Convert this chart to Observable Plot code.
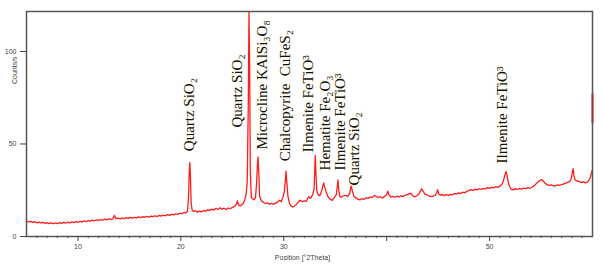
<!DOCTYPE html>
<html><head><meta charset="utf-8">
<script src="https://cdn.jsdelivr.net/npm/d3@7"></script>
<script src="https://cdn.jsdelivr.net/npm/@observablehq/plot@0.6"></script>
<style>body{margin:0;background:#fff;}</style>
</head><body><div id="chart"></div>
<script>
// XRD pattern: [2θ (degrees), counts/s]
const pattern = [
[5.0,8.3],[5.2,7.9],[5.4,8.2],[5.6,7.6],[5.8,8.0],[6.0,7.4],[6.2,7.8],[6.4,7.3],[6.6,7.6],[6.8,7.1],
[7.0,7.5],[7.2,7.0],[7.4,7.4],[7.6,6.9],[7.8,7.3],[8.0,7.0],[8.2,7.5],[8.4,7.1],[8.6,7.6],[8.8,7.2],
[9.0,7.7],[9.2,7.4],[9.4,7.9],[9.6,7.5],[9.8,8.0],[10.0,7.7],[10.2,8.2],[10.4,7.9],[10.6,8.4],[10.8,8.1],
[11.0,8.6],[11.2,8.3],[11.4,8.8],[11.6,8.5],[11.8,9.0],[12.0,8.7],[12.2,9.1],[12.4,8.8],[12.6,9.4],[12.8,9.0],
[13.0,9.5],[13.2,9.2],[13.4,9.7],[13.55,11.4],[13.7,9.6],[13.9,9.9],[14.1,9.5],[14.3,10.0],[14.5,9.7],[14.7,10.2],
[14.9,9.8],[15.1,10.3],[15.3,9.9],[15.5,10.4],[15.7,10.1],[15.9,10.6],[16.1,10.2],[16.3,10.7],[16.5,10.4],[16.7,10.9],
[16.9,10.5],[17.1,11.0],[17.3,10.7],[17.5,11.2],[17.7,10.8],[17.9,11.4],[18.1,11.0],[18.3,11.6],[18.5,11.2],[18.7,11.8],
[18.9,11.4],[19.1,12.0],[19.3,11.7],[19.5,12.3],[19.7,11.9],[19.9,12.6],[20.1,12.3],[20.3,13.0],[20.5,12.8],[20.65,13.8],
[20.75,22],[20.82,36],[20.87,40],[20.93,33],[21.0,18],[21.1,14.2],[21.25,13.5],[21.4,13.9],[21.6,13.2],[21.8,13.7],
[22.0,13.3],[22.2,14.1],[22.4,13.6],[22.6,14.5],[22.8,14.0],[23.0,14.8],[23.2,14.3],[23.4,15.2],[23.6,14.6],[23.8,15.5],
[24.0,14.8],[24.2,15.3],[24.4,14.6],[24.6,15.4],[24.8,15.0],[25.0,15.8],[25.2,16.2],[25.4,17.5],[25.5,19.3],[25.6,17.0],
[25.8,16.6],[26.0,17.5],[26.2,19.5],[26.35,23],[26.45,30],[26.55,70],[26.62,121.5],[26.68,95],[26.75,35],[26.85,21],
[26.95,20.5],[27.1,19.8],[27.25,21],[27.35,28],[27.45,40],[27.5,43],[27.56,36],[27.65,22],[27.8,19.5],[28.0,18.5],
[28.2,17.8],[28.4,18.2],[28.6,17.4],[28.8,17.9],[29.0,17.5],[29.2,18.0],[29.4,18.6],[29.6,19.6],[29.75,18.8],[29.9,21],
[30.05,24],[30.15,30],[30.22,35.3],[30.3,29],[30.4,22],[30.55,18],[30.7,16.6],[30.85,16.0],[31.0,16.3],[31.2,17.2],
[31.4,18.6],[31.6,19.6],[31.8,18.8],[32.0,19.2],[32.2,19.0],[32.4,21.5],[32.6,20.6],[32.8,22.5],[32.95,26],[33.02,38],
[33.06,43.8],[33.12,35],[33.2,25],[33.35,22.5],[33.5,22.0],[33.65,24],[33.8,27.5],[33.88,29],[33.95,27],[34.1,24.5],
[34.3,21.5],[34.5,20.2],[34.7,19.5],[34.9,21],[35.1,22.5],[35.2,27],[35.27,30.6],[35.35,25],[35.45,21.5],[35.6,21.3],
[35.8,21.9],[36.0,22.3],[36.2,21.6],[36.4,23.2],[36.55,27.6],[36.65,25],[36.8,21.8],[37.0,21.0],[37.2,20.2],[37.4,19.8],
[37.6,20.5],[37.8,20.1],[38.0,20.9],[38.2,20.6],[38.4,21.4],[38.6,21.0],[38.8,22.2],[39.0,21.6],[39.2,21.2],[39.4,21.4],
[39.6,20.8],[39.8,21.8],[40.0,22.6],[40.1,24.5],[40.2,22.8],[40.4,21.3],[40.6,21.7],[40.8,21.2],[41.0,21.8],[41.2,21.4],
[41.4,22.0],[41.6,21.7],[41.8,22.3],[42.0,22.6],[42.2,23.2],[42.35,23.4],[42.5,22.2],[42.7,21.4],[42.9,21.9],[43.1,22.8],
[43.3,24.8],[43.4,25.8],[43.55,24.5],[43.7,23.0],[43.9,22.5],[44.1,21.9],[44.3,21.5],[44.5,21.8],[44.7,22.2],[44.85,23.5],
[44.95,25.3],[45.05,23.0],[45.2,22.4],[45.4,22.7],[45.6,22.1],[45.8,22.6],[46.0,22.2],[46.2,22.8],[46.4,22.5],[46.6,23.2],
[46.8,23.0],[47.0,23.6],[47.2,23.2],[47.4,24.0],[47.6,23.6],[47.8,24.5],[48.0,24.8],[48.2,25.3],[48.4,24.9],[48.6,25.6],
[48.8,25.2],[49.0,25.8],[49.2,25.4],[49.4,26.0],[49.6,25.7],[49.8,26.4],[50.0,26.0],[50.2,26.6],[50.4,26.3],[50.6,26.9],
[50.8,26.5],[51.0,27.2],[51.2,28.2],[51.35,30.2],[51.5,33.5],[51.6,35.1],[51.7,33],[51.8,29.5],[51.95,27.0],[52.1,25.5],
[52.3,25.2],[52.5,25.9],[52.7,25.4],[52.9,26.0],[53.1,25.6],[53.3,26.2],[53.5,25.8],[53.7,26.4],[53.9,26.1],[54.1,26.6],
[54.3,27.2],[54.5,28.4],[54.7,29.5],[54.9,30.4],[55.05,30.8],[55.2,30.0],[55.4,28.8],[55.6,28.0],[55.8,27.6],[56.0,27.9],
[56.2,27.3],[56.4,27.4],[56.6,27.9],[56.8,27.6],[57.0,28.1],[57.2,28.4],[57.4,28.8],[57.6,29.3],[57.8,29.8],[57.95,31.5],
[58.05,35.0],[58.12,36.6],[58.2,33.0],[58.3,30.6],[58.5,30.0],[58.7,29.8],[58.9,29.2],[59.1,29.5],[59.3,29.0],[59.5,29.4],
[59.65,30.5],[59.8,32.2],[59.95,35.5]
];

// Phase labels: position (2θ) and the counts level where the label starts
const labelTheta  = [20.78, 25.46, 27.88, 30.15, 32.41, 34.03, 35.49, 36.87, 51.24];
const labelCounts = [46.1, 58.9, 47.0, 40.7, 45.6, 35.7, 35.7, 27.6, 39.5];
const labelTexts  = [
  "Quartz SiO₂", "Quartz SiO₂", "Microcline KAlSi₃O₈", "Chalcopyrite  CuFeS₂",
  "Ilmenite FeTiO³", "Hematite Fe₂O₃", "Ilmenite FeTiO³", "Quartz SiO₂", "Ilmenite FeTiO³"
];
const peakLabels = labelTexts.map((t, i) => ({x: labelTheta[i], y: labelCounts[i], text: t}));

const xMajorTicks = [10, 20, 30, 40, 50];
const xTickLabels = [10, 20, 30, 50];
const xMinorTicks = [6,7,8,9,11,12,13,14,15,16,17,18,19,21,22,23,24,25,26,27,28,29,31,32,33,34,35,36,37,38,39,41,42,43,44,45,46,47,48,49,51,52,53,54,55,56,57,58,59];
const yTicks = [0, 50, 100];
const xLabel = "Position [°2Theta]";
const yLabel = "Counts/s";
const sideMarker = [{x: 60, y1: 61, y2: 77}];

const chart = Plot.plot({
  width: 603, height: 273,
  marginLeft: 26, marginRight: 11, marginTop: 11, marginBottom: 37,
  style: {fontFamily: "'Liberation Sans', Arial, sans-serif", fontSize: "7px", color: "#444", background: "#fff"},
  x: {domain: [5, 60]},
  y: {domain: [0, 121.6]},
  marks: [
    Plot.line(pattern, {x: d => d[0], y: d => d[1], stroke: "#ff1c1c", strokeWidth: 1.3}),
    Plot.frame({stroke: "#555", strokeWidth: 1.5}),
    Plot.axisX({ticks: xMinorTicks, tickSize: 2, tickFormat: () => "", label: null}),
    Plot.axisX({ticks: xMajorTicks, tickSize: 5, tickPadding: 3, tickFormat: d => xTickLabels.includes(d) ? String(d) : "", label: null}),
    Plot.axisY({ticks: yTicks, tickSize: 6, tickPadding: 4, label: null}),
    Plot.text([xLabel], {text: d => d, frameAnchor: "bottom", dy: 23, dx: -7, fill: "#444"}),
    Plot.text([yLabel], {text: d => d, frameAnchor: "left", rotate: -90, dx: -12, dy: -40, fill: "#444"}),
    Plot.ruleX(sideMarker, {x: "x", y1: "y1", y2: "y2", stroke: "#a83232", strokeWidth: 2}),
    Plot.text(peakLabels, {
      x: "x", y: "y", text: "text", rotate: -90, textAnchor: "start",
      fontFamily: "'Liberation Serif', 'Times New Roman', serif", fontSize: 15,
      fill: "#111", stroke: "#fffdf0", strokeWidth: 2.5
    })
  ]
});
document.getElementById("chart").append(chart);
</script>
</body></html>
